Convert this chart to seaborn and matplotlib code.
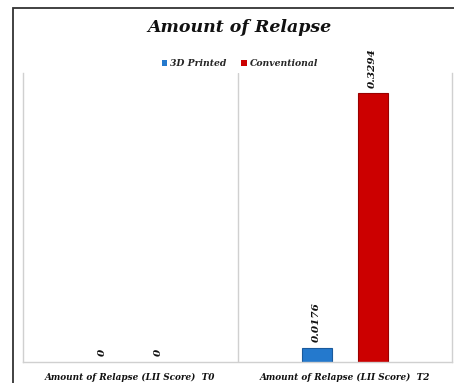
import matplotlib
matplotlib.use("Agg")
import matplotlib.pyplot as plt
from matplotlib.patches import Rectangle
import seaborn as sns
import pandas as pd

# Relapse (LII score) at each time point, by retainer type
categories = ["Amount of Relapse (LII Score)  T0", "Amount of Relapse (LII Score)  T2"]
groups = ["3D Printed", "Conventional"]
printed_3d = [0.0, 0.0176]
conventional = [0.0, 0.3294]
value_labels_3d = ["0", "0.0176"]
value_labels_conv = ["0", "0.3294"]

colors = {"3D Printed": "#2479cd", "Conventional": "#cc0000"}
edges = {"3D Printed": "#1a5a9c", "Conventional": "#990000"}

df = pd.DataFrame({
    "category": categories * 2,
    "group": [groups[0]] * 2 + [groups[1]] * 2,
    "value": printed_3d + conventional,
})

sns.set_theme(style="white")
plt.rcParams["font.family"] = ["DejaVu Serif"]

W, H = 454, 383
fig = plt.figure(figsize=(W / 100, H / 100), dpi=100)
fig.patch.set_facecolor("white")

# outer chart frame (left and top edges visible)
fig.add_artist(Rectangle((13 / W, -0.05), 1.2, 1 - 8 / H + 0.05,
                         transform=fig.transFigure, fill=False,
                         edgecolor="#333333", linewidth=1.3))

ax = fig.add_axes([23 / W, 21 / H, (452 - 23) / W, (362 - 73) / H])

sns.barplot(data=df, x="category", y="value", hue="group",
            palette=colors, width=0.52, gap=0.46, ax=ax,
            legend=False, errorbar=None, saturation=1)

for cont, grp, labels in zip(ax.containers, groups,
                             [value_labels_3d, value_labels_conv]):
    for p in cont:
        if p.get_height() > 0:
            p.set_edgecolor(edges[grp])
            p.set_linewidth(0.8)
        else:
            p.set_linewidth(0)
    ax.bar_label(cont, labels=labels, rotation=90, padding=4,
                 fontsize=7.5, fontweight="bold", fontstyle="italic",
                 color="#111111")

ax.set_xlim(-0.5, 1.5)
ax.set_ylim(0, 0.354)
ax.set_yticks([])
ax.set_xlabel("")
ax.set_ylabel("")
ax.axvline(0.5, color="#d0d0d0", linewidth=1.0)
for side in ["left", "right", "bottom"]:
    ax.spines[side].set_color("#d0d0d0")
    ax.spines[side].set_linewidth(1.0)
ax.spines["top"].set_visible(False)
ax.tick_params(axis="x", length=0, pad=8)
for lbl in ax.get_xticklabels():
    lbl.set_fontsize(6.4)
    lbl.set_fontweight("bold")
    lbl.set_fontstyle("italic")
    lbl.set_color("#111111")

fig.text(0.528, 1 - 27 / H, "Amount of Relapse", ha="center", va="center",
         fontsize=12.5, fontweight="bold", fontstyle="italic", color="#111111")

handles = [Rectangle((0, 0), 1, 1, facecolor=colors[g], edgecolor="none") for g in groups]
leg = fig.legend(handles, groups, loc="center", bbox_to_anchor=(0.528, 1 - 64 / H),
                 ncol=2, frameon=False, handlelength=0.6, handleheight=0.6,
                 handletextpad=0.3, columnspacing=1.6,
                 prop={"size": 6.7, "weight": "bold", "style": "italic"})

fig.savefig("out.png", dpi=100, facecolor="white")
